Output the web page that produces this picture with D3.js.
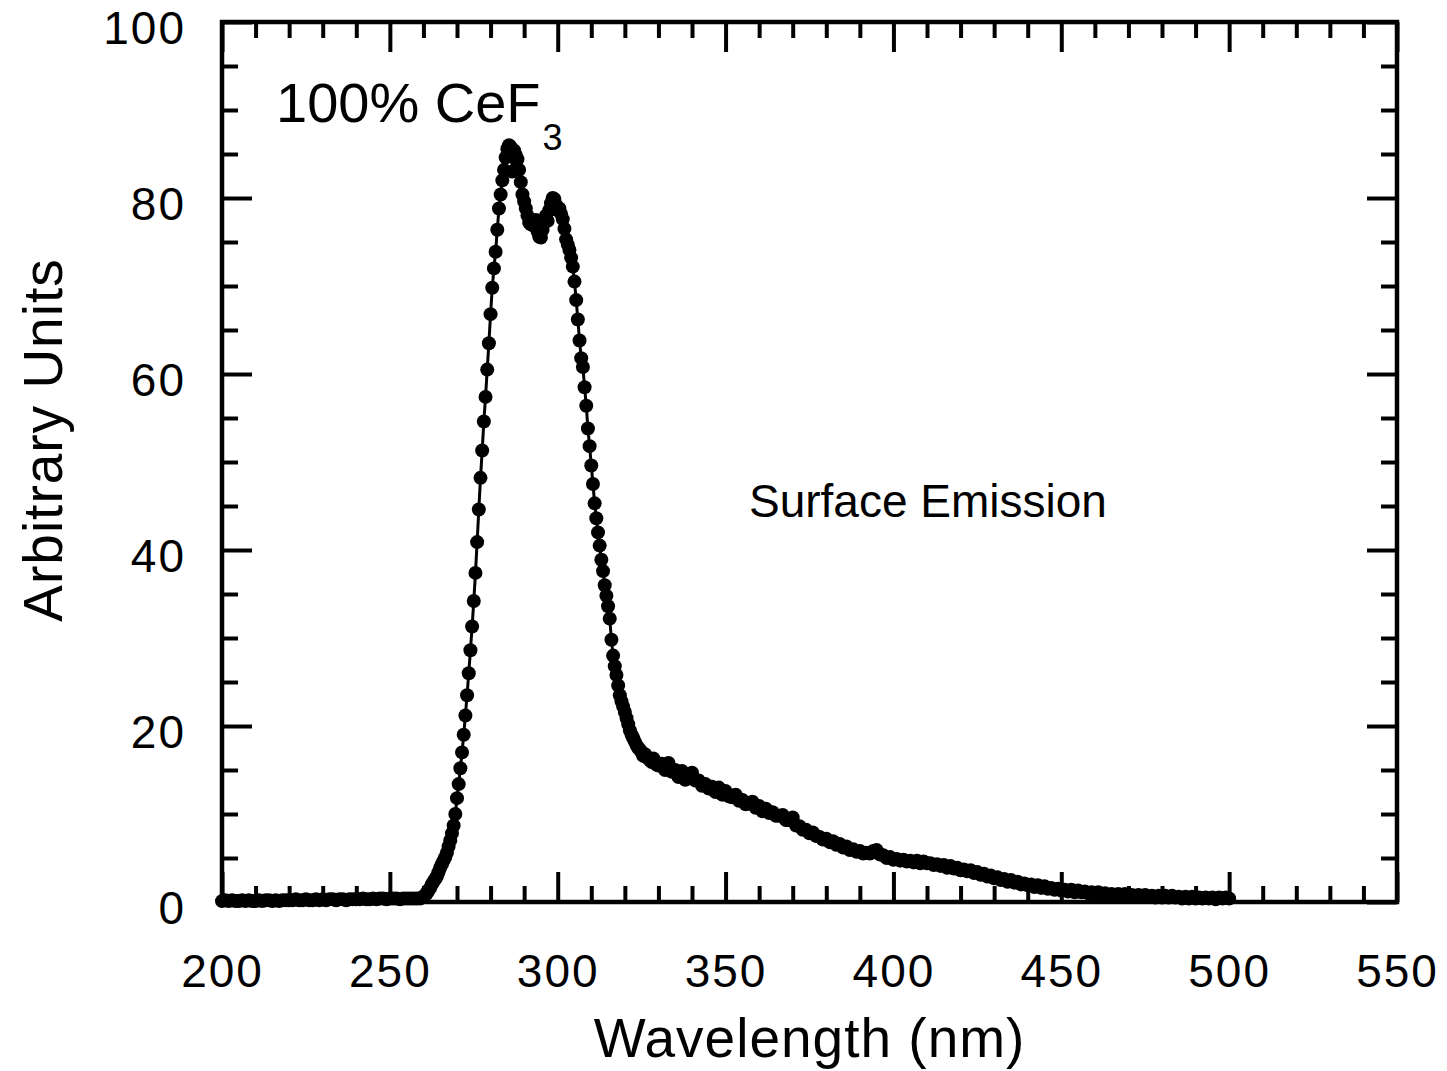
<!DOCTYPE html>
<html><head><meta charset="utf-8">
<script src="https://cdn.jsdelivr.net/npm/d3@7"></script>
<style>body{margin:0;background:#fff}</style>
</head><body>
<svg id="c" width="1447" height="1071"></svg>
<script>
// ---- data ----
const xTickLabels = [200, 250, 300, 350, 400, 450, 500, 550];
const yTickLabels = [0, 20, 40, 60, 80, 100];
const xMinorTicks = [210,220,230,240,260,270,280,290,310,320,330,340,360,370,380,390,410,420,430,440,460,470,480,490,510,520,530,540];
const yMinorTicks = [5,10,15,25,30,35,45,50,55,65,70,75,85,90,95];

// baseline segment: 200..259 nm, 1 nm step
const baseStart = 200, baseStep = 1;
const baseValues = [
 0.1,0.2,0.1,0.2,0.1,0.1,0.2,0.1,0.2,0.1,0.1,0.2,0.1,0.2,0.2,0.1,0.2,0.1,0.2,0.2,
 0.2,0.2,0.3,0.2,0.2,0.3,0.2,0.2,0.3,0.2,0.3,0.2,0.3,0.3,0.2,0.3,0.3,0.2,0.3,0.3,
 0.3,0.3,0.4,0.3,0.3,0.4,0.3,0.4,0.4,0.3,0.4,0.4,0.4,0.3,0.4,0.4,0.4,0.4,0.4,0.4];

// peak segment: 259.5..330 nm, 0.5 nm step
const peakStart = 259.5, peakStep = 0.5;
const peakValues = [
 0.5,0.6,0.8,1.0,1.3,1.6,2.0,2.3,2.6,2.9,
 3.4,3.9,4.3,4.7,5.1,5.6,6.3,7.0,7.8,8.7,
 10.0,11.8,13.4,15.2,17.0,19.0,21.2,23.5,26.0,28.6,
 31.3,34.2,37.4,40.9,44.6,48.2,51.3,54.6,57.4,60.5,
 63.5,66.8,69.8,72.0,73.9,76.4,78.8,80.4,82.0,83.2,
 84.6,85.6,86.0,85.8,83.0,85.4,84.9,84.4,83.2,81.8,
 80.4,79.6,78.8,78.0,77.2,77.0,77.4,76.8,77.5,76.2,
 75.6,75.5,76.4,77.5,78.0,77.4,78.6,79.4,80.0,79.9,
 79.2,78.6,78.8,78.2,77.6,76.5,75.3,74.7,74.1,73.2,
 72.2,70.5,68.4,66.2,63.8,61.8,60.8,58.5,56.4,53.8,
 51.8,49.6,47.5,45.3,43.6,42.0,40.5,38.9,37.6,36.0,
 34.8,33.6,32.2,29.8,28.0,26.8,25.8,24.6,23.5,22.8,
 22.2,21.6,20.9,20.2,19.5,19.0,18.6,18.2,17.8,17.5,
 17.3,17.0,16.6,16.8,16.5,16.3,16.1,15.9,16.3,15.8,
 15.6,15.5];

// tail segment: 331..500 nm, 1 nm step
const tailStart = 331, tailStep = 1;
const tailValues = [
 15.7,15.0,15.8,14.8,15.0,14.2,14.9,13.9,14.4,14.7,
 13.8,13.8,13.2,13.4,12.9,13.1,12.5,13.0,12.2,12.6,
 12.0,11.9,12.2,11.5,11.6,11.1,11.2,11.4,10.7,10.9,
 10.3,10.6,10.1,10.2,9.8,9.8,9.9,9.3,9.3,9.6,
 8.7,8.6,8.2,8.2,7.8,7.9,7.5,7.4,7.1,7.2,
 6.8,6.9,6.5,6.6,6.2,6.3,5.9,6.0,5.7,5.8,
 5.5,5.6,5.5,5.8,5.9,5.4,5.3,5.0,5.1,4.8,
 4.9,4.7,4.8,4.6,4.7,4.5,4.7,4.4,4.6,4.4,
 4.4,4.2,4.3,4.1,4.2,3.9,4.1,3.8,3.9,3.6,
 3.7,3.5,3.6,3.3,3.4,3.1,3.2,2.9,3.0,2.7,
 2.8,2.5,2.6,2.3,2.5,2.2,2.3,2.0,2.1,1.9,
 2.0,1.7,1.9,1.6,1.8,1.5,1.6,1.4,1.5,1.3,
 1.4,1.2,1.4,1.1,1.3,1.1,1.2,1.0,1.1,0.9,
 1.1,0.8,1.0,0.8,0.9,0.7,0.9,0.7,0.9,0.7,
 0.8,0.6,0.8,0.6,0.8,0.6,0.7,0.5,0.7,0.5,
 0.7,0.5,0.7,0.5,0.6,0.4,0.6,0.4,0.6,0.4,
 0.5,0.4,0.5,0.4,0.5,0.3,0.5,0.4,0.5,0.4];

// ---- build points ----
const pts = [];
baseValues.forEach((v,i)=>pts.push([baseStart+i*baseStep, v]));
peakValues.forEach((v,i)=>pts.push([peakStart+i*peakStep, v]));
tailValues.forEach((v,i)=>pts.push([tailStart+i*tailStep, v]));

// ---- chart ----
const FONT = "'Liberation Sans', Arial, Helvetica, sans-serif";
const svg = d3.select("#c");
const L = 222, R = 1397, T = 22, B = 902;
const x = d3.scaleLinear().domain([200, 550]).range([L, R]);
const y = d3.scaleLinear().domain([0, 100]).range([B, T]);

function tickAxis(axis, tr, vals, size) {
  const g = svg.append("g").attr("transform", tr)
    .call(axis.tickValues(vals).tickSize(size).tickFormat(""));
  g.select(".domain").remove();
  g.selectAll("line").attr("stroke", "#000").attr("stroke-width", 4);
  g.selectAll("text").remove();
}
const MAJ = -30, MIN = -16;
tickAxis(d3.axisBottom(x), `translate(0,${B})`, xTickLabels, MAJ);
tickAxis(d3.axisBottom(x), `translate(0,${B})`, xMinorTicks, MIN);
tickAxis(d3.axisTop(x), `translate(0,${T})`, xTickLabels, MAJ);
tickAxis(d3.axisTop(x), `translate(0,${T})`, xMinorTicks, MIN);
tickAxis(d3.axisLeft(y), `translate(${L},0)`, yTickLabels, MAJ);
tickAxis(d3.axisLeft(y), `translate(${L},0)`, yMinorTicks, MIN);
tickAxis(d3.axisRight(y), `translate(${R},0)`, yTickLabels, MAJ);
tickAxis(d3.axisRight(y), `translate(${R},0)`, yMinorTicks, MIN);

// frame
svg.append("rect").attr("x", L).attr("y", T).attr("width", R - L).attr("height", B - T)
  .attr("fill", "none").attr("stroke", "#000").attr("stroke-width", 4.5);

// tick labels
const gx = svg.append("g").attr("transform", `translate(0,${B})`)
  .call(d3.axisBottom(x).tickValues(xTickLabels).tickSize(0).tickPadding(52).tickFormat(d3.format("d")));
gx.select(".domain").remove();
gx.attr("font-size", 46).attr("font-family", FONT);
gx.selectAll("text").attr("fill", "#000").attr("letter-spacing", "2px");

const gy = svg.append("g").attr("transform", `translate(${L},0)`)
  .call(d3.axisLeft(y).tickValues(yTickLabels).tickSize(0).tickPadding(36).tickFormat(d3.format("d")));
gy.select(".domain").remove();
gy.attr("font-size", 46).attr("font-family", FONT);
gy.selectAll("text").attr("fill", "#000").attr("dy", "0.47em").attr("letter-spacing", "2px");

// curve
const line = d3.line().x(d => x(d[0])).y(d => y(d[1]));
svg.append("path").datum(pts).attr("d", line)
  .attr("fill", "none").attr("stroke", "#000").attr("stroke-width", 3);
svg.append("g").selectAll("circle").data(pts).join("circle")
  .attr("cx", d => x(d[0])).attr("cy", d => y(d[1])).attr("r", 7).attr("fill", "#000");

// titles
svg.append("text").attr("x", (L + R) / 2).attr("y", 1057).attr("text-anchor", "middle")
  .attr("font-family", FONT).attr("font-size", 55).attr("letter-spacing", "1px").text("Wavelength (nm)");
svg.append("text").attr("transform", "translate(62,440) rotate(-90)").attr("text-anchor", "middle")
  .attr("font-family", FONT).attr("font-size", 55).attr("letter-spacing", "1px").text("Arbitrary Units");

// annotations
const ann = svg.append("text").attr("x", 276).attr("y", 122)
  .attr("font-family", FONT).attr("font-size", 56);
ann.append("tspan").text("100% CeF");
ann.append("tspan").attr("font-size", 36).attr("dy", 28).attr("dx", 2).text("3");

svg.append("text").attr("x", 749).attr("y", 517)
  .attr("font-family", FONT).attr("font-size", 46).text("Surface Emission");
</script>
</body></html>
